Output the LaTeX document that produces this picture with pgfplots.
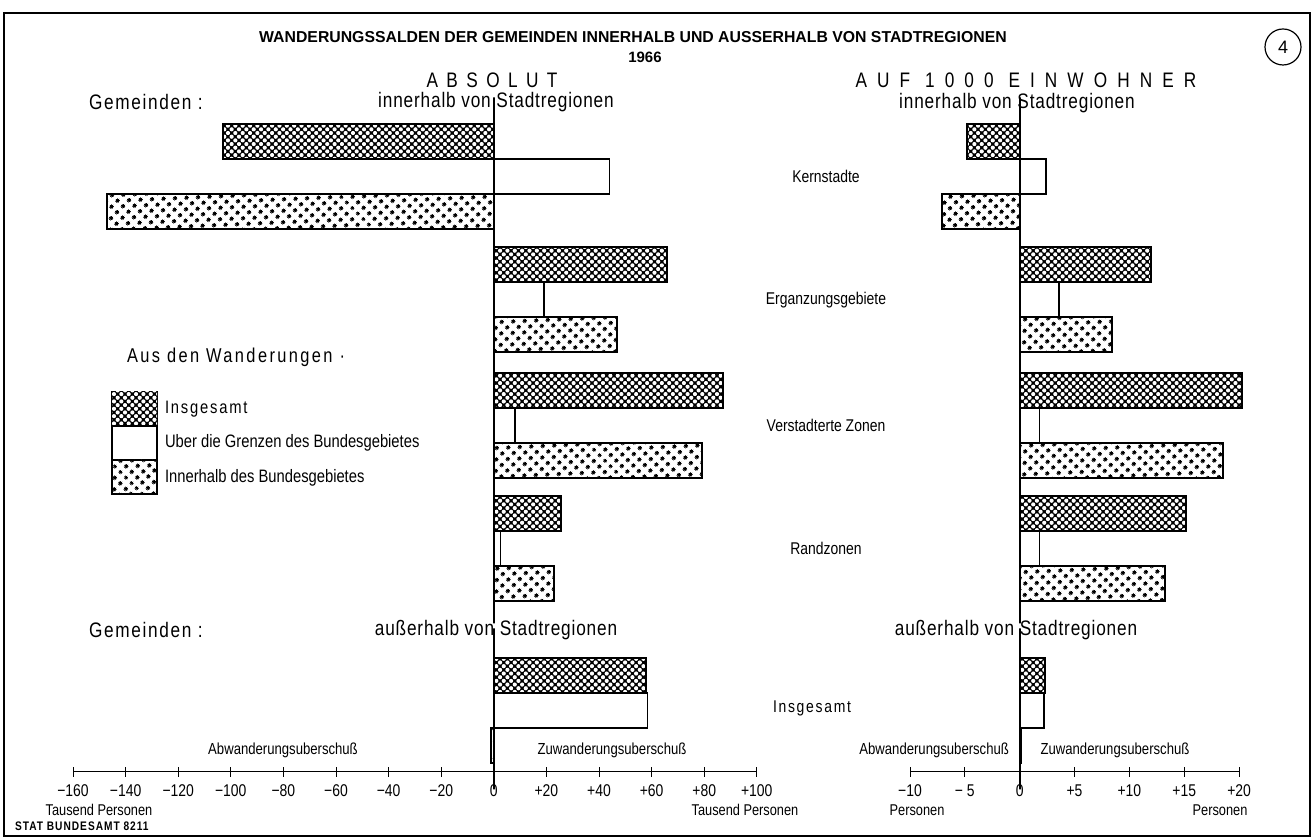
\documentclass[border=0pt]{standalone}
\usepackage{fontspec}
\setmainfont{Liberation Sans}[FakeStretch=0.82]
\newfontfamily\titlefont{Liberation Sans}
\usepackage{pgfplots}
\pgfplotsset{compat=1.18}
\usetikzlibrary{patterns.meta}

\newcommand{\spaced}[2]{{\addfontfeatures{LetterSpace=#1}#2}}
\newcommand{\lab}{\fontsize{8.5}{10}\selectfont}
\newcommand{\head}{\fontsize{10.5}{12}\selectfont}
\newcommand{\smalltxt}{\fontsize{8}{9}\selectfont}

\tikzset{
  insg/.style={fill=black, draw=black, line width=1pt,
    postaction={pattern={Dots[angle=45,distance=2.6pt,radius=1.05pt]}, pattern color=white}},
  ueber/.style={fill=white, draw=black, line width=0.8pt},
  inner/.style={fill=white, draw=black, line width=1pt,
    postaction={pattern={Dots[angle=45,distance=4pt,radius=1.1pt]}, pattern color=black}},
}

\pgfplotsset{
  panel/.style={
    y=0.5pt, ymin=-772, ymax=-100,
    xbar, bar width=35, bar shift=0pt,
    axis x line*=bottom, axis y line=none, ytick=\empty,
    tick align=center, major tick length=5pt,
    tick style={black, line width=0.5pt},
    axis line style={black, line width=0.5pt},
    xticklabel style={font=\fontsize{8.5}{9}\selectfont, yshift=-0.5pt},
    clip=false, anchor=south west,
  },
  zero/.style={black, line width=1pt, unbounded coords=jump, forget plot},
}

\begin{document}
\begin{tikzpicture}
\path[use as bounding box] (0,0) rectangle (657pt,419.5pt);

% absolute values, thousand persons
\begin{axis}[panel, at={(36.5pt,33.5pt)}, x=1.315pt, xmin=-160, xmax=100,
  xtick={-160,-140,...,100},
  xticklabels={−160,−140,−120,−100,−80,−60,−40,−20,0,+20,+40,+60,+80,+100}]
\addplot[insg] coordinates {(-103,-141.5) (66,-264.5) (87,-390.5) (25.5,-513.5) (58,-675.5)};
\addplot[ueber] coordinates {(44,-176.5) (19,-299.5) (8,-425.5) (2.5,-548.5) (58.5,-710.5)};
\addplot[inner] coordinates {(-147,-211.5) (47,-334.5) (79,-460.5) (23,-583.5) (-1,-745.5)};
\addplot[zero] coordinates {(0,-115) (0,-236) (nan,nan) (0,-241) (0,-358) (nan,nan)
  (0,-363) (0,-484) (nan,nan) (0,-489) (0,-606) (nan,nan) (0,-646) (0,-772)};
\end{axis}

% per 1000 inhabitants
\begin{axis}[panel, at={(455pt,33.5pt)}, x=5.485pt, xmin=-10, xmax=20,
  xtick={-10,-5,...,20},
  xticklabels={−10,− 5,0,+5,+10,+15,+20}]
\addplot[insg] coordinates {(-4.8,-141.5) (12.0,-264.5) (20.3,-390.5) (15.2,-513.5) (2.3,-675.5)};
\addplot[ueber] coordinates {(2.4,-176.5) (3.6,-299.5) (1.8,-425.5) (1.8,-548.5) (2.2,-710.5)};
\addplot[inner] coordinates {(-7.1,-211.5) (8.4,-334.5) (18.5,-460.5) (13.2,-583.5) (0.1,-745.5)};
\addplot[zero] coordinates {(0,-115) (0,-236) (nan,nan) (0,-241) (0,-358) (nan,nan)
  (0,-363) (0,-484) (nan,nan) (0,-489) (0,-606) (nan,nan) (0,-646) (0,-772)};
\end{axis}

\begin{scope}[x=0.5pt,y=0.5pt]
\draw[line width=0.75pt] (4,{839-13}) rectangle (1310,{839-836});
\draw[line width=0.6pt] (1283,{839-47}) circle (18);
\node[font=\titlefont\fontsize{9}{10}\selectfont] at (1283,{839-47}) {4};
\node[font=\titlefont\bfseries\fontsize{7.9}{9}\selectfont] at (633,{839-37})
  {WANDERUNGSSALDEN DER GEMEINDEN INNERHALB UND AUSSERHALB VON STADTREGIONEN};
\node[font=\titlefont\bfseries\fontsize{7.5}{9}\selectfont] at (645,{839-57}) {1966};

\node[font=\head] at (492,{839-80}) {\spaced{40}{ABSOLUT}};
\node[font=\head] at (496,{839-102}) {\spaced{4}{innerhalb von Stadtregionen}};
\node[font=\head, anchor=west] at (82,{839-102}) {\spaced{8}{Gemeinden :}};
\node[font=\head] at (1026,{839-80}) {\spaced{48}{AUF 1000 EINWOHNER}};
\node[font=\head] at (1017,{839-103}) {\spaced{4}{innerhalb von Stadtregionen}};

\node[font=\lab] at (826,{839-176}) {Kernstadte};
\node[font=\lab] at (826,{839-300}) {Erganzungsgebiete};
\node[font=\lab] at (826,{839-425}) {Verstadterte Zonen};
\node[font=\lab] at (826,{839-548}) {Randzonen};
\node[font=\lab] at (812,{839-708}) {\spaced{10}{Insgesamt}};

\node[font=\fontsize{10}{11}\selectfont, anchor=west] at (120,{839-357}) {\spaced{12}{Aus den Wanderungen ·}};
\draw[insg] (112,{839-392}) rectangle (157,{839-426});
\draw[ueber] (112,{839-426}) rectangle (157,{839-460});
\draw[inner] (112,{839-460}) rectangle (157,{839-494});
\node[font=\fontsize{9}{11}\selectfont, anchor=west] at (158,{839-409}) {\spaced{10}{Insgesamt}};
\node[font=\fontsize{9}{11}\selectfont, anchor=west] at (158,{839-443}) {Uber die Grenzen des Bundesgebietes};
\node[font=\fontsize{9}{11}\selectfont, anchor=west] at (158,{839-478}) {Innerhalb des Bundesgebietes};

\node[font=\head, anchor=west] at (82,{839-630}) {\spaced{8}{Gemeinden :}};
\node[font=\head] at (496,{839-630}) {\spaced{4}{außerhalb von Stadtregionen}};
\node[font=\head] at (1016,{839-630}) {\spaced{4}{außerhalb von Stadtregionen}};

\node[font=\smalltxt] at (283,{839-750}) {Abwanderungsuberschuß};
\node[font=\smalltxt] at (612,{839-750}) {Zuwanderungsuberschuß};
\node[font=\smalltxt, anchor=east] at (1016,{839-750}) {Abwanderungsuberschuß};
\node[font=\smalltxt] at (1115,{839-750}) {Zuwanderungsuberschuß};

\node[font=\fontsize{7.8}{9}\selectfont] at (99,{839-810}) {Tausend Personen};
\node[font=\fontsize{7.8}{9}\selectfont] at (745,{839-810}) {Tausend Personen};
\node[font=\fontsize{7.8}{9}\selectfont] at (917,{839-810}) {Personen};
\node[font=\fontsize{7.8}{9}\selectfont] at (1220,{839-810}) {Personen};
\node[font=\bfseries\fontsize{6.2}{7}\selectfont, anchor=west] at (8,{839-826})
  {\spaced{8}{STAT BUNDESAMT 8211}};
\end{scope}
\end{tikzpicture}
\end{document}
